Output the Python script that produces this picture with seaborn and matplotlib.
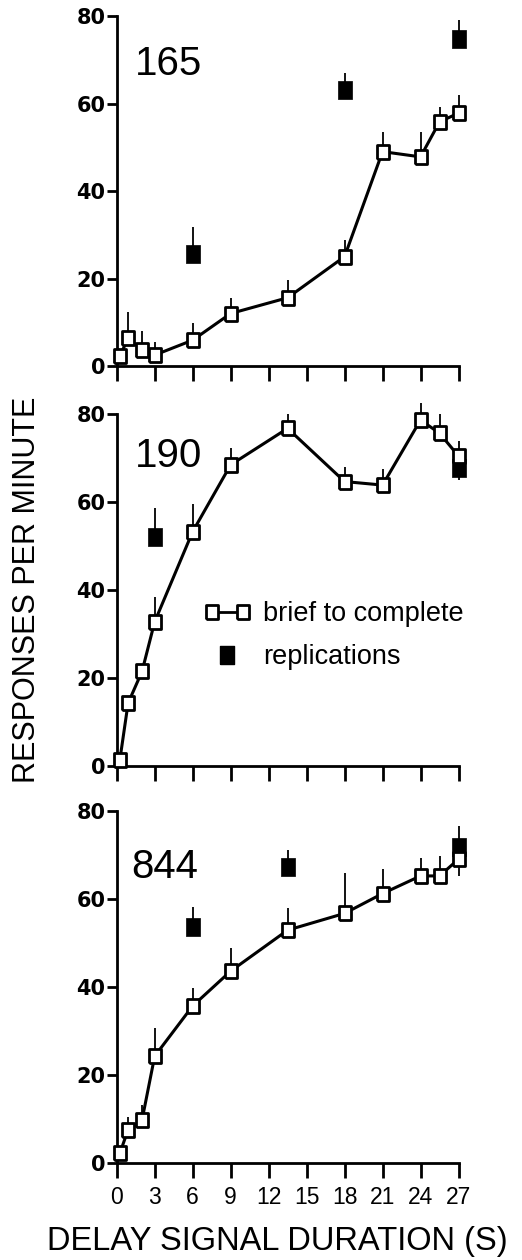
import numpy as np
import pandas as pd
import matplotlib
matplotlib.use("Agg")
import matplotlib.pyplot as plt
from matplotlib.lines import Line2D
from matplotlib.legend_handler import HandlerLine2D
import seaborn as sns

# ---------------- data ----------------
delay_s = [0.25, 0.9, 2, 3, 6, 9, 13.5, 18, 21, 24, 25.5, 27]

brief_165 = [2.3, 6.3, 3.7, 2.5, 5.9, 12.0, 15.6, 25.0, 49.0, 47.8, 55.8, 57.8]
brief_165_up = [0, 6.1, 4.3, 3.1, 4.0, 3.5, 4.1, 3.8, 4.6, 5.8, 3.3, 4.1]
brief_165_dn = [0] * 12
rep_165_x = [6, 18, 27]
rep_165 = [25.6, 63.1, 74.7]
rep_165_up = [6.2, 3.9, 4.4]
rep_165_dn = [0, 0, 0]

brief_190 = [1.4, 14.3, 21.5, 32.8, 53.3, 68.5, 76.8, 64.7, 63.9, 78.7, 75.7, 70.5]
brief_190_up = [0, 0, 0, 5.7, 6.4, 3.8, 3.2, 3.2, 3.6, 3.8, 4.3, 3.4]
brief_190_dn = [0] * 12
rep_190_x = [3, 27]
rep_190 = [52.0, 67.7]
rep_190_up = [6.6, 0]
rep_190_dn = [0, 2.7]

brief_844 = [2.3, 7.6, 9.8, 24.3, 35.7, 43.6, 52.9, 56.7, 61.2, 65.2, 65.2, 69.0]
brief_844_up = [0, 2.8, 3.4, 6.3, 4.1, 5.2, 5.1, 9.1, 5.6, 4.0, 4.5, 0]
brief_844_dn = [0, 0, 0, 0, 0, 0, 0, 0, 0, 0, 0, 3.9]
rep_844_x = [6, 13.5, 27]
rep_844 = [53.7, 67.3, 71.8]
rep_844_up = [4.4, 3.8, 4.7]
rep_844_dn = [0, 0, 0]

subjects = ["165", "190", "844"]
x_ticks = [0, 3, 6, 9, 12, 15, 18, 21, 24, 27]
y_ticks = [0, 20, 40, 60, 80]
legend_labels = ["brief to complete", "replications"]
x_label = "DELAY SIGNAL DURATION (S)"
y_label = "RESPONSES PER MINUTE"

panels = [
    (brief_165, brief_165_up, brief_165_dn, rep_165_x, rep_165, rep_165_up, rep_165_dn),
    (brief_190, brief_190_up, brief_190_dn, rep_190_x, rep_190, rep_190_up, rep_190_dn),
    (brief_844, brief_844_up, brief_844_dn, rep_844_x, rep_844, rep_844_up, rep_844_dn),
]

# ---------------- style ----------------
sns.set_theme(style="ticks")
plt.rcParams["font.family"] = ["Liberation Sans", "DejaVu Sans"]
plt.rcParams["text.color"] = "black"
plt.rcParams["axes.labelcolor"] = "black"
plt.rcParams["xtick.color"] = "black"
plt.rcParams["ytick.color"] = "black"
plt.rcParams["legend.labelcolor"] = "black"

open_marker = [(-0.85, -1), (0.85, -1), (0.85, 1), (-0.85, 1), (-0.85, -1)]
fill_marker = [(-0.75, -1), (0.75, -1), (0.75, 1), (-0.75, 1), (-0.75, -1)]

fig = plt.figure(figsize=(5.22, 12.6), dpi=100)
W, H = 522.0, 1260.0
left_px, right_px = 116.7, 458.5
axes_rect = [
    (16.0, 366.0),
    (414.3, 766.0),
    (810.7, 1163.3),
]
label_pos = [(0.053, 0.831), (0.053, 0.850), (0.044, 0.808)]

for i, ((b, bu, bd, rx, r, ru, rdn), (top, bot)) in enumerate(zip(panels, axes_rect)):
    ax = fig.add_axes([left_px / W, 1 - bot / H, (right_px - left_px) / W, (bot - top) / H])
    ax.set_facecolor("white")
    df_b = pd.DataFrame({"x": delay_s, "y": b})
    df_r = pd.DataFrame({"x": rx, "y": r})

    # error bars (drawn first, behind markers)
    ax.errorbar(delay_s, b, yerr=[bd, bu], fmt="none", ecolor="black",
                elinewidth=1.3, capsize=0, zorder=2, clip_on=False)
    ax.errorbar(rx, r, yerr=[rdn, ru], fmt="none", ecolor="black",
                elinewidth=1.3, capsize=0, zorder=2, clip_on=False)

    # replications (filled)
    sns.lineplot(data=df_r, x="x", y="y", ax=ax, linestyle="none", marker=fill_marker,
                 markersize=13, markerfacecolor="black", markeredgecolor="black",
                 markeredgewidth=0.5, color="black", zorder=3, clip_on=False,
                 estimator=None, sort=False, legend=False)
    # brief to complete (open, connected)
    sns.lineplot(data=df_b, x="x", y="y", ax=ax, color="black", linewidth=2.2,
                 marker=open_marker, markersize=9.8, markerfacecolor="white",
                 markeredgecolor="black", markeredgewidth=2.0, zorder=4,
                 clip_on=False, estimator=None, sort=False, legend=False)

    ax.set_xlim(0, 27)
    ax.set_ylim(0, 80)
    ax.set_xticks(x_ticks)
    ax.set_yticks(y_ticks)
    ax.set_yticklabels([str(v) for v in y_ticks], fontfamily="DejaVu Sans",
                       fontweight="bold", fontsize=15, color="black")
    if i == 2:
        ax.set_xticklabels([str(v) for v in x_ticks], fontsize=16.5, color="black")
    else:
        ax.set_xticklabels([])
    ax.set_xlabel("")
    ax.set_ylabel("")
    for s in ["top", "right"]:
        ax.spines[s].set_visible(False)
    for s in ["left", "bottom"]:
        ax.spines[s].set_linewidth(2.0)
        ax.spines[s].set_color("black")
    ax.tick_params(axis="x", direction="out", length=10.5, width=2.0, pad=6, colors="black")
    ax.tick_params(axis="y", direction="out", length=7.2, width=2.0, pad=1, colors="black")
    ax.grid(False)

    lx, ly = label_pos[i]
    ax.text(lx, ly, subjects[i], transform=ax.transAxes, fontsize=29,
            va="baseline", ha="left", color="black")

    if i == 1:
        h1 = Line2D([], [], color="black", linewidth=2.0, marker=open_marker,
                    markersize=9.8, markerfacecolor="white", markeredgecolor="black",
                    markeredgewidth=2.0)
        h2 = Line2D([], [], color="black", linestyle="none", marker=fill_marker,
                    markersize=13, markerfacecolor="black", markeredgecolor="black")
        ax.legend(handles=[h1, h2], labels=legend_labels, loc="upper left",
                  bbox_to_anchor=(0.254, 0.468), frameon=False, fontsize=19.5,
                  numpoints=2, handlelength=1.75, handletextpad=0.45,
                  labelspacing=0.62, borderpad=0, borderaxespad=0,
                  labelcolor="black",
                  handler_map={h2: HandlerLine2D(numpoints=1)})

fig.text(27 / W, 1 - 590 / H, y_label, rotation=90, ha="center", va="center",
         fontsize=22, color="black")
fig.text(277.5 / W, 1 - 1250 / H, x_label, ha="center", va="baseline",
         fontsize=23.5, color="black")

fig.savefig("out.png", dpi=100, facecolor="white")
